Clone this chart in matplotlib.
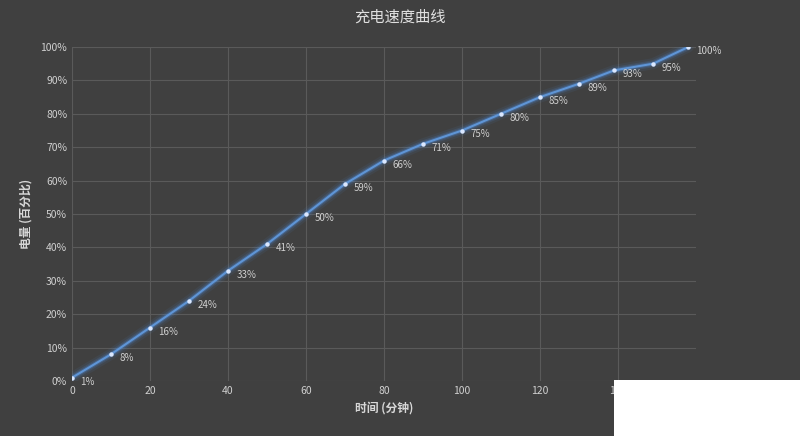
import matplotlib
matplotlib.use("Agg")
import matplotlib.pyplot as plt
from matplotlib.patches import Rectangle

plt.rcParams['font.family'] = ['Noto Sans CJK SC', 'DejaVu Sans']

minutes = [0, 10, 20, 30, 40, 50, 60, 70, 80, 90, 100, 110, 120, 130, 139, 149, 158]
battery = [1, 8, 16, 24, 33, 41, 50, 59, 66, 71, 75, 80, 85, 89, 93, 95, 100]
xticks = [0, 20, 40, 60, 80, 100, 120, 140]
yticks = list(range(0, 101, 10))

bg = '#404040'
fig = plt.figure(figsize=(8, 4.36), dpi=100, facecolor=bg)
ax = fig.add_axes([72/800, 1-381/436, 624/800, 334/436], facecolor=bg)

line = '#5f95d6'
for lw, a in [(8, 0.08), (5, 0.15), (3, 0.3)]:
    ax.plot(minutes, battery, color='#4f8fe0', lw=lw, alpha=a, solid_capstyle='round')
ax.plot(minutes, battery, color=line, lw=1.5, marker='o', ms=2.2,
        mfc='#dbe8ff', mec='#dbe8ff')
for x, y in zip(minutes, battery):
    ax.annotate(f'{y}%', (x, y), xytext=(6, -5), textcoords='offset points',
                color='#d0d0d0', fontsize=7)

ax.set_xlim(0, 160)
ax.set_ylim(0, 100)
ax.set_xticks(xticks)
ax.set_yticks(yticks)
ax.set_yticklabels([f'{v}%' for v in yticks])
ax.grid(True, color='#5a5a5a', lw=0.8)
ax.set_axisbelow(True)
for s in ax.spines.values():
    s.set_visible(False)
ax.tick_params(colors='#d0d0d0', labelsize=7.5, length=0)
ax.set_xlabel('时间 (分钟)', color='#d8d8d8', fontsize=8.5, fontweight='bold', labelpad=4)
ax.set_ylabel('电量 (百分比)', color='#d8d8d8', fontsize=8.5, fontweight='bold', labelpad=6)
fig.text(0.5, 1-17/436, '充电速度曲线', ha='center', va='center', color='#e0e0e0', fontsize=11)

fig.add_artist(Rectangle((614/800, 0), 186/800, 56/436, transform=fig.transFigure,
                         facecolor='white', edgecolor='none', zorder=10))

fig.savefig('out.png', dpi=100, facecolor=bg)
